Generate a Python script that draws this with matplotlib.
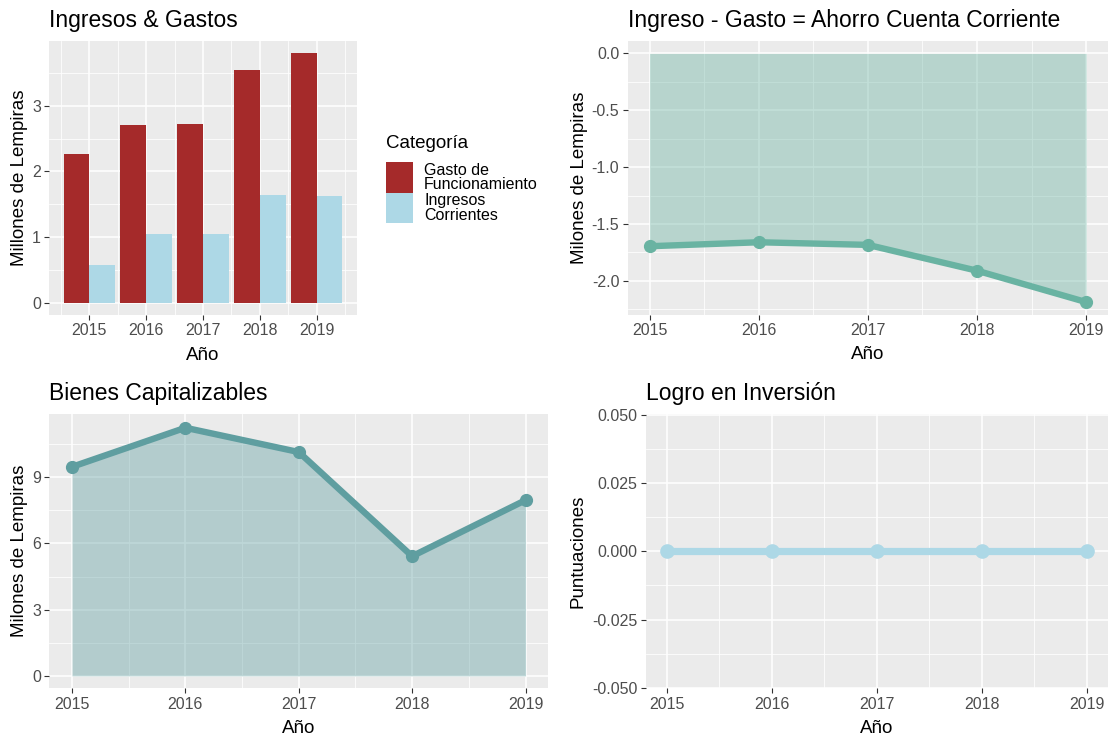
import numpy as np
import matplotlib.pyplot as plt
from matplotlib.patches import Rectangle
from matplotlib.ticker import MultipleLocator, FixedLocator

plt.rcParams['font.family'] = ['Liberation Sans', 'DejaVu Sans']

years = [2015, 2016, 2017, 2018, 2019]
gasto_funcionamiento = [2.27, 2.71, 2.73, 3.55, 3.80]
ingresos_corrientes = [0.58, 1.04, 1.04, 1.635, 1.62]
ahorro_corriente = [-1.695, -1.66, -1.683, -1.91, -2.186]
bienes_capitalizables = [9.47, 11.24, 10.14, 5.42, 7.96]
logro_inversion = [0, 0, 0, 0, 0]
categorias = ['Gasto de\nFuncionamiento', 'Ingresos\nCorrientes']
colores = ['#A52A2A', '#ADD8E6']

W, H = 1109, 736
fig = plt.figure(figsize=(W / 100, H / 100), dpi=100)
fig.patch.set_facecolor('white')


def px_axes(x0, y0, x1, y1):
    # pixel box (top-left origin) -> figure axes
    return fig.add_axes([x0 / W, 1 - y1 / H, (x1 - x0) / W, (y1 - y0) / H])


def style(ax, yticks, ymin, title, ylabel, box, ylab_x):
    x0, y0, x1, y1 = box
    ax.set_facecolor('#EBEBEB')
    for s in ax.spines.values():
        s.set_visible(False)
    ax.xaxis.set_major_locator(FixedLocator(years))
    ax.xaxis.set_minor_locator(MultipleLocator(0.5))
    ax.yaxis.set_major_locator(FixedLocator(yticks))
    ax.yaxis.set_minor_locator(MultipleLocator(ymin))
    ax.grid(which='major', color='white', lw=1.1)
    ax.grid(which='minor', color='white', lw=0.55)
    ax.set_axisbelow(True)
    ax.tick_params(which='major', length=3.5, width=0.8, color='#333333',
                   labelcolor='#4D4D4D', labelsize=11.5, pad=2.5)
    ax.tick_params(which='minor', length=0)
    ax.set_xlabel('Año', fontsize=13.5)
    ax.xaxis.set_label_coords(0.5, -(40) / (y1 - y0))
    ax.xaxis.label.set_va('center')
    ax.set_ylabel(ylabel, fontsize=13.5)
    ax.yaxis.set_label_coords(-(x0 - ylab_x) / (x1 - x0), 0.5)
    ax.yaxis.label.set_va('center')
    ax.text(0, 1 + 21 / (y1 - y0), title, transform=ax.transAxes, fontsize=16.5,
            ha='left', va='center')


# Ingresos & Gastos
box1 = (49.3, 41, 356.7, 315)
ax1 = px_axes(*box1)
yr = np.array(years)
ax1.bar(yr - 0.225, gasto_funcionamiento, width=0.45, color=colores[0], zorder=3)
ax1.bar(yr + 0.225, ingresos_corrientes, width=0.45, color=colores[1], zorder=3)
ax1.set_xlim(2014.3, 2019.7)
ax1.set_ylim(-0.19, 3.99)
style(ax1, [0, 1, 2, 3], 0.5, 'Ingresos & Gastos', 'Millones de Lempiras', box1, 19.6)

# legend drawn by hand, ggplot style
fig.text(386 / W, 1 - 144 / H, 'Categoría', fontsize=13.5, ha='left', va='center')
key_top = 162
for i, (lab, col) in enumerate(zip(categorias, colores)):
    top = key_top + i * 30.5
    fig.patches.append(Rectangle((386 / W, 1 - (top + 30.5) / H), 27 / W, 30.5 / H,
                                 transform=fig.transFigure, facecolor=col,
                                 edgecolor='none'))
    fig.text(424 / W, 1 - (top + 15.5) / H, lab, fontsize=11.5, ha='left',
             va='center', linespacing=0.95)

# Ingreso - Gasto = Ahorro Cuenta Corriente
box2 = (627.7, 41, 1108, 314.5)
ax2 = px_axes(*box2)
ax2.fill_between(years, ahorro_corriente, 0, color='#69B3A2', alpha=0.4, lw=0, zorder=2)
ax2.plot(years, ahorro_corriente, color='#69B3A2', lw=4.6, marker='o', ms=8.5,
         solid_capstyle='butt', zorder=3)
ax2.set_xlim(2014.8, 2019.2)
ax2.set_ylim(-2.295, 0.109)
style(ax2, [-2.0, -1.5, -1.0, -0.5, 0.0], 0.25,
      'Ingreso - Gasto = Ahorro Cuenta Corriente', 'Milones de Lempiras', box2, 579)
ax2.yaxis.set_major_formatter(plt.FuncFormatter(lambda v, p: f'{v:.1f}'.replace('-0.0', '0.0')))

# Bienes Capitalizables
box3 = (49.3, 414.3, 548.2, 688.3)
ax3 = px_axes(*box3)
ax3.fill_between(years, bienes_capitalizables, 0, color='#5F9EA0', alpha=0.4, lw=0, zorder=2)
ax3.plot(years, bienes_capitalizables, color='#5F9EA0', lw=4.6, marker='o', ms=8.5,
         solid_capstyle='butt', zorder=3)
ax3.set_xlim(2014.8, 2019.2)
ax3.set_ylim(-0.562, 11.85)
style(ax3, [0, 3, 6, 9], 1.5, 'Bienes Capitalizables', 'Milones de Lempiras', box3, 19.6)

# Logro en Inversión
box4 = (645.7, 414.3, 1108, 688.3)
ax4 = px_axes(*box4)
ax4.plot(years, logro_inversion, color='#ADD8E6', lw=5.2, marker='o', ms=9.5,
         solid_capstyle='butt', zorder=3)
ax4.set_xlim(2014.8, 2019.2)
ax4.set_ylim(-0.0502, 0.0502)
style(ax4, [-0.05, -0.025, 0, 0.025, 0.05], 0.0125, 'Logro en Inversión',
      'Puntuaciones', box4, 577.5)
ax4.yaxis.set_major_formatter(plt.FuncFormatter(lambda v, p: f'{v:.3f}'.replace('-0.000', '0.000')))

fig.savefig('out.png', dpi=100)
